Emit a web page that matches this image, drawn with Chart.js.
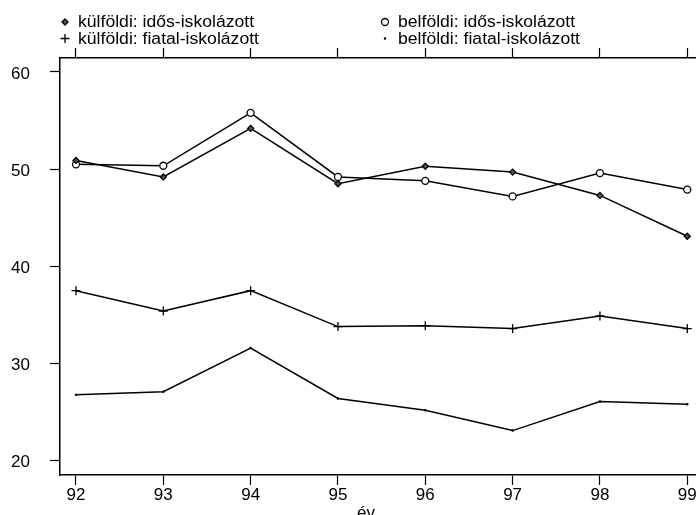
<!DOCTYPE html>
<html>
<head>
<meta charset="utf-8">
<script src="https://cdn.jsdelivr.net/npm/chart.js@4/dist/chart.umd.min.js"></script>
<style>
  html, body { margin: 0; padding: 0; background: #fff; overflow: hidden; }
  #wrap { position: relative; width: 710px; height: 530px; }
</style>
</head>
<body>
<div id="wrap"><canvas id="chart"></canvas></div>
<script>
// years on the x axis
const years = [92, 93, 94, 95, 96, 97, 98, 99];
const yTicks = [20, 30, 40, 50, 60];

// series values
const kulfoldiIdos   = [50.9, 49.2, 54.2, 48.5, 50.3, 49.7, 47.3, 43.1];
const belfoldiIdos   = [50.5, 50.35, 55.8, 49.2, 48.8, 47.2, 49.6, 47.9];
const kulfoldiFiatal = [37.5, 35.4, 37.5, 33.8, 33.9, 33.6, 34.9, 33.6];
const belfoldiFiatal = [26.8, 27.1, 31.6, 26.4, 25.2, 23.1, 26.1, 25.8];

const labels = [
  'külföldi: idős-iskolázott',
  'belföldi: idős-iskolázott',
  'külföldi: fiatal-iskolázott',
  'belföldi: fiatal-iskolázott',
];

const FONT = '"Liberation Sans", Arial, Helvetica, sans-serif';
const ink = '#000';

function pts(vals) {
  return years.map((y, i) => ({ x: y, y: vals[i] }));
}

function series(label, vals, style, radius, fillCol) {
  return {
    label,
    data: pts(vals),
    borderColor: ink,
    borderWidth: 1.5,
    pointStyle: style,
    pointRadius: radius,
    pointBorderColor: ink,
    pointBackgroundColor: fillCol,
    pointBorderWidth: 1.3,
    tension: 0,
    fill: false,
  };
}

// legend in two columns above the frame, like the original
const legendPlugin = {
  id: 'twoColLegend',
  afterDraw(chart) {
    const ctx = chart.ctx;
    const cols = [65, 385];
    const rows = [22, 38.5];
    ctx.save();
    ctx.font = '16px ' + FONT;
    ctx.textBaseline = 'middle';
    chart.data.datasets.forEach((ds, i) => {
      const cx = cols[i % 2];
      const cy = rows[Math.floor(i / 2)];
      ctx.strokeStyle = ink;
      ctx.fillStyle = ds.pointBackgroundColor;
      ctx.lineWidth = ds.pointBorderWidth;
      Chart.helpers.drawPoint(ctx, { pointStyle: ds.pointStyle, radius: ds.pointRadius, rotation: 0, borderWidth: ds.pointBorderWidth }, cx, cy);
      ctx.fillStyle = ink;
      ctx.save();
      ctx.translate(cx + 13, cy + 1);
      ctx.scale(1.1, 1);
      ctx.fillText(ds.label, 0, 0);
      ctx.restore();
    });
    // x axis title
    ctx.font = '17px ' + FONT;
    ctx.textAlign = 'center';
    ctx.textBaseline = 'top';
    ctx.fillText('év', 366, 505);
    ctx.restore();
  }
};

new Chart(document.getElementById('chart'), {
  type: 'line',
  data: {
    datasets: [
      series(labels[0], kulfoldiIdos, 'rectRot', 3, '#555'),
      series(labels[1], belfoldiIdos, 'circle', 3.5, '#fff'),
      series(labels[2], kulfoldiFiatal, 'cross', 4.5, ink),
      series(labels[3], belfoldiFiatal, 'circle', 0.6, ink),
    ],
  },
  options: {
    responsive: true,
    maintainAspectRatio: false,
    animation: false,
    layout: { padding: { left: 0, right: 7, top: 0, bottom: 0 } },
    plugins: {
      legend: { display: false },
      tooltip: { enabled: false },
    },
    scales: {
      x: {
        type: 'linear',
        position: 'bottom',
        min: 91.817,
        max: 99.18,
        afterBuildTicks: (axis) => { axis.ticks = years.map(v => ({ value: v })); },
        afterFit: (axis) => { axis.height = 55; },
        ticks: {
          color: ink,
          font: { family: FONT, size: 17 },
          padding: 0,
          maxRotation: 0,
          autoSkip: false,
        },
        grid: { drawOnChartArea: false, drawTicks: true, tickLength: 10, tickWidth: 1.2, color: ink },
        border: { display: true, color: ink, width: 1.5 },
      },
      xTop: {
        type: 'linear',
        position: 'top',
        min: 91.817,
        max: 99.18,
        afterBuildTicks: (axis) => { axis.ticks = years.map(v => ({ value: v })); },
        afterFit: (axis) => { axis.height = 58; },
        ticks: { display: false },
        grid: { drawOnChartArea: false, drawTicks: true, tickLength: 10, tickWidth: 1.2, color: ink },
        border: { display: true, color: ink, width: 1.5 },
      },
      y: {
        type: 'linear',
        position: 'left',
        min: 18.53,
        max: 61.44,
        afterBuildTicks: (axis) => { axis.ticks = yTicks.map(v => ({ value: v })); },
        afterFit: (axis) => { axis.width = 60; },
        ticks: {
          color: ink,
          font: { family: FONT, size: 17 },
          padding: 20,
          labelOffset: 2,
        },
        grid: { drawOnChartArea: false, drawTicks: true, tickLength: 10, tickWidth: 1.2, color: ink },
        border: { display: true, color: ink, width: 1.5 },
      },
    },
  },
  plugins: [legendPlugin],
});
</script>
</body>
</html>
